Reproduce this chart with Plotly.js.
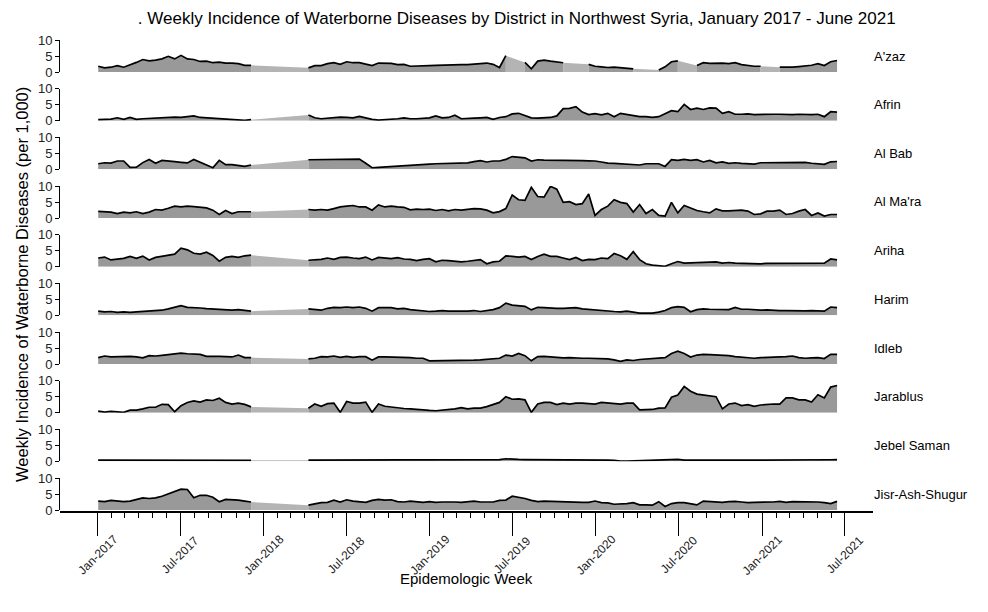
<!DOCTYPE html>
<html><head><meta charset="utf-8">
<script src="https://cdn.plot.ly/plotly-3.0.1.min.js"></script>
<style>html,body{margin:0;padding:0;background:#fff}#chart{width:988px;height:612px}</style>
</head><body><div id="chart"></div>
<script>
// ---------------- DATA ----------------
const districts = ["A'zaz","Afrin","Al Bab","Al Ma'ra","Ariha","Harim","Idleb","Jarablus","Jebel Saman","Jisr-Ash-Shugur"];
// bi-weekly epidemiologic weeks starting on this Monday
const firstWeek = '2017-01-02';
const weekStepDays = 14;
const N = null;

const azaz = [1.8,1.3,1.5,2.0,1.5,2.2,3.0,3.9,3.5,3.7,
 4.1,4.9,4.1,5.2,4.1,3.9,3.3,3.4,2.9,3.1,
 2.8,2.8,2.6,2.1,2.1,N,N,N,N,N,
 N,N,N,1.3,2.0,2.0,2.6,2.9,2.4,3.2,
 2.9,2.9,2.4,2.0,2.8,2.7,2.7,2.3,2.4,1.8,
 1.8,2.0,2.0,2.1,2.2,2.1,2.2,2.3,2.3,2.4,
 2.6,2.8,2.4,1.4,5.1,N,N,3.0,1.0,3.4,
 3.7,3.4,3.1,2.9,N,N,N,2.4,1.8,1.6,
 1.4,1.5,1.3,1.2,1.0,N,N,N,0.6,1.6,
 3.2,3.5,N,N,2.0,2.9,2.7,2.8,2.8,2.6,
 2.9,2.3,2.0,1.8,1.8,N,N,1.5,1.4,1.5,
 1.7,1.8,2.1,2.6,2.0,3.2,3.6];

const afrin = [0.3,0.4,0.5,0.9,0.4,1.0,0.4,0.6,0.7,0.9,
 0.8,0.9,1.1,1.0,1.25,1.5,1.0,0.9,0.6,0.6,
 0.6,0.4,0.3,0.1,0.3,N,N,N,N,N,
 N,N,N,1.8,0.9,0.6,0.8,0.9,1.1,1.0,
 0.9,1.35,0.8,0.4,0.2,0.3,0.5,0.6,0.9,0.6,
 0.6,0.8,0.9,1.5,0.9,1.0,1.7,0.6,0.6,0.8,
 0.9,1.0,0.4,1.0,1.25,2.1,2.3,1.7,0.9,0.8,
 0.9,1.0,1.5,3.75,3.85,4.4,2.7,1.9,2.2,1.8,
 2.3,1.25,2.3,2.0,1.6,1.25,1.25,1.0,1.25,2.1,
 3.1,2.8,5.1,3.5,3.9,3.5,4.0,3.9,2.3,2.8,
 2.0,2.0,2.1,1.9,2.0,2.1,2.0,2.0,1.9,1.9,
 2.0,1.9,1.9,2.0,1.25,2.8,2.7];

const alBab = [1.75,2.05,1.95,2.6,2.6,0.6,0.7,2.1,3.1,1.9,
 2.8,2.5,2.4,2.2,2.0,3.1,2.3,1.5,0.5,2.8,
 1.45,1.45,1.25,0.9,1.35,N,N,N,N,N,
 N,N,N,3.0,3.0,3.05,3.05,3.1,3.1,3.15,
 3.15,3.2,1.9,0.5,0.6,0.7,0.8,0.9,1.0,1.15,
 1.3,1.45,1.6,1.75,1.8,1.8,1.85,1.9,2.0,2.4,
 2.7,2.3,2.6,2.6,3.1,4.0,3.8,3.6,2.6,3.0,
 2.9,2.9,2.85,2.8,2.75,2.7,2.7,2.65,2.6,2.3,
 1.95,1.85,1.75,1.5,1.45,1.35,1.75,1.75,1.75,0.9,
 3.0,2.8,3.1,2.8,3.0,2.3,2.8,2.05,2.3,1.85,
 2.05,1.85,1.85,1.65,2.05,2.05,2.05,2.1,2.15,2.15,
 2.15,2.15,1.9,1.75,1.55,2.35,2.45];

const alMara = [2.1,2.0,1.85,1.4,1.85,1.6,1.95,1.4,1.85,2.65,
 2.45,3.05,3.7,3.45,3.7,3.55,3.35,3.15,2.45,1.1,
 2.35,1.4,1.95,1.95,1.95,N,N,N,N,N,
 N,N,N,2.65,2.45,2.65,2.45,2.95,3.45,3.7,
 3.9,3.45,3.45,2.45,4.1,3.45,3.7,3.45,3.35,2.55,
 2.75,2.65,2.75,2.35,2.65,2.25,2.65,2.45,2.75,2.95,
 2.85,2.45,1.6,2.0,2.95,7.2,5.7,5.5,9.6,6.7,
 6.5,9.9,9.0,4.9,5.1,4.2,4.5,7.5,0.8,2.65,
 3.7,5.7,4.9,4.5,1.85,4.2,1.4,2.65,0.8,0.6,
 4.9,1.6,3.9,3.15,2.35,1.95,1.6,2.85,2.25,2.25,
 2.25,2.45,2.15,1.1,1.3,2.15,2.15,2.45,1.1,1.4,
 2.15,2.65,0.8,1.6,0.6,1.1,1.1];

const ariha = [2.7,3.0,2.1,2.4,2.6,3.2,2.6,3.3,2.1,2.9,
 3.2,3.7,3.9,5.8,5.25,4.2,3.9,4.5,3.5,1.7,
 2.9,3.2,2.9,3.4,3.6,N,N,N,N,N,
 N,N,N,2.0,2.1,2.3,2.7,2.3,2.9,3.0,
 2.7,2.5,3.0,2.1,2.9,2.6,2.5,2.8,2.4,2.3,
 1.9,2.3,2.5,1.5,2.0,1.9,1.7,1.5,1.7,1.9,
 2.2,0.9,1.5,1.7,3.4,3.2,3.0,3.2,2.2,3.2,
 3.9,3.2,3.2,2.7,2.2,2.9,1.9,2.3,2.2,2.7,
 2.5,4.1,3.4,2.3,4.7,2.2,0.9,0.5,0.3,0.1,
 0.9,1.6,1.1,1.2,1.1,1.4,1.3,1.5,1.1,1.3,
 1.1,1.0,0.9,0.9,0.9,1.0,1.0,1.0,1.0,1.0,
 1.0,1.1,1.1,1.2,1.1,2.4,2.1];

const harim = [1.3,1.1,1.2,0.9,1.1,0.9,1.1,1.2,1.3,1.5,
 1.6,2.0,2.4,3.0,2.5,2.5,2.3,2.1,2.0,1.8,
 1.8,1.6,1.8,1.5,1.3,N,N,N,N,N,
 N,N,N,2.0,1.7,1.6,2.2,2.5,2.4,2.6,
 2.4,2.6,2.2,1.3,2.4,2.5,2.4,2.0,2.2,1.8,
 1.6,1.5,1.2,1.3,1.5,1.3,1.4,1.3,1.3,1.5,
 1.2,1.4,1.8,2.4,3.8,3.2,3.1,2.8,1.7,2.5,
 2.4,2.2,2.2,2.2,2.4,2.4,2.0,1.8,1.6,1.5,
 1.3,1.2,1.1,1.3,1.0,0.7,0.7,0.7,1.0,1.5,
 2.4,2.7,2.5,1.1,1.8,2.0,1.9,1.9,1.9,1.8,
 2.5,1.9,1.9,1.7,1.6,1.7,1.5,1.5,1.5,1.4,
 1.5,1.4,1.5,1.5,1.3,2.6,2.4];

const idleb = [2.0,2.5,2.2,2.3,2.3,2.4,2.2,1.9,2.6,2.5,
 2.7,2.9,3.2,3.4,3.2,3.2,3.0,2.4,2.5,2.4,
 2.3,2.2,2.8,2.0,2.0,N,N,N,N,N,
 N,N,N,1.6,1.8,2.3,2.2,2.5,2.1,2.4,
 2.1,2.3,2.3,1.2,2.2,2.2,2.2,2.0,2.0,2.0,
 1.8,1.8,1.0,1.0,1.0,1.0,1.0,1.1,1.1,1.2,
 1.3,1.5,1.6,1.8,2.8,2.5,3.3,2.6,1.0,2.3,
 2.4,2.2,2.1,1.9,2.0,1.8,1.8,1.8,1.8,1.8,
 1.6,1.3,0.8,1.3,1.1,1.4,1.6,1.8,1.8,2.0,
 3.3,4.0,3.3,2.2,2.8,3.0,2.9,2.8,2.8,2.6,
 2.3,2.1,1.8,1.8,2.0,2.0,2.1,2.2,2.3,2.5,
 2.0,1.8,1.9,2.0,1.7,3.0,3.0];

const jarablus = [0.5,0.2,0.4,0.2,0.1,0.8,0.8,1.2,1.7,1.7,
 2.6,2.5,0.3,2.2,3.2,3.7,3.3,4.0,3.8,4.5,
 3.2,2.7,3.0,2.6,1.8,N,N,N,N,N,
 N,N,N,1.4,2.7,2.0,2.8,3.0,0.1,3.5,
 3.0,3.0,3.3,0.1,2.7,2.0,1.7,1.4,1.3,1.2,
 1.0,0.7,0.7,0.6,0.8,0.8,1.2,1.6,1.2,1.4,
 1.4,1.9,2.5,3.2,5.0,4.2,4.3,4.0,0.1,2.7,
 3.2,3.2,2.5,3.0,2.7,3.0,3.0,2.8,2.7,3.2,
 3.0,2.7,2.7,3.0,3.0,0.9,0.9,1.0,1.4,1.5,
 4.8,5.5,8.2,6.7,5.8,5.5,5.3,5.0,1.2,2.7,
 3.0,2.2,2.5,2.0,2.4,2.6,2.7,2.7,4.6,4.6,
 4.0,4.0,3.3,5.6,4.6,8.0,8.5];

const jebelSaman = [0.4,0.4,0.35,0.3,0.35,0.35,0.3,0.35,0.35,0.4,
 0.35,0.4,0.35,0.4,0.35,0.35,0.3,0.35,0.3,0.3,
 0.3,0.3,0.3,0.3,0.3,N,N,N,N,N,
 N,N,N,0.35,0.35,0.4,0.4,0.4,0.45,0.4,
 0.45,0.4,0.4,0.4,0.4,0.4,0.35,0.35,0.35,0.35,
 0.35,0.4,0.4,0.4,0.35,0.4,0.4,0.45,0.4,0.45,
 0.45,0.5,0.5,0.55,0.8,0.6,0.6,0.55,0.55,0.55,
 0.5,0.55,0.5,0.55,0.5,0.5,0.45,0.4,0.4,0.35,
 0.4,0.3,0.05,0.05,0.1,0.2,0.25,0.3,0.35,0.4,
 0.5,0.6,0.4,0.35,0.35,0.35,0.35,0.35,0.35,0.35,
 0.3,0.3,0.3,0.3,0.3,0.3,0.3,0.3,0.3,0.3,
 0.35,0.35,0.35,0.4,0.4,0.5,0.55];

const jisr = [2.8,2.6,3.0,2.8,2.6,2.8,3.3,3.8,3.6,3.8,
 4.3,5.0,5.9,6.5,6.4,3.8,4.6,4.6,4.0,2.6,
 3.3,3.3,3.1,2.8,2.5,N,N,N,N,N,
 N,N,N,1.5,2.0,2.3,2.4,3.1,2.5,3.2,
 2.8,2.6,2.4,3.0,3.3,3.1,3.2,2.6,2.5,2.8,
 2.6,2.4,2.6,2.4,2.5,2.6,2.5,2.4,2.5,2.8,
 2.5,2.4,2.5,3.0,3.1,4.3,4.0,3.6,3.0,2.6,
 2.8,2.7,2.8,2.6,2.6,2.4,2.4,2.4,2.8,2.3,
 2.2,1.8,1.8,2.0,2.3,1.6,1.6,1.5,2.6,1.1,
 2.0,2.3,2.3,2.0,1.6,2.8,2.7,2.5,2.4,2.6,
 2.7,2.5,2.3,2.4,2.4,2.5,2.5,2.7,2.4,2.6,
 2.6,2.4,2.5,2.5,2.3,2.0,2.7];

const seriesList = [azaz, afrin, alBab, alMara, ariha, harim, idleb, jarablus, jebelSaman, jisr];

const majorTickDates = ['2017-01-01','2017-07-01','2018-01-01','2018-07-01','2019-01-01','2019-07-01','2020-01-01','2020-07-01','2021-01-01','2021-07-01'];
const majorTickLabels = ['Jan-2017','Jul-2017','Jan-2018','Jul-2018','Jan-2019','Jul-2019','Jan-2020','Jul-2020','Jan-2021','Jul-2021'];
const yTickVals = [0, 5, 10];

const titleText = '. Weekly Incidence of Waterborne Diseases by District in Northwest Syria, January 2017 - June 2021';
const yTitleText = 'Weekly Incidence of Waterborne Diseases (per 1,000)';
const xTitleText = 'Epidemologic Week';

// ---------------- BUILD ----------------
function addDays(iso, n) {
  const d = new Date(iso + 'T00:00:00Z');
  d.setUTCDate(d.getUTCDate() + n);
  return d.toISOString().slice(0, 10);
}
const dates = azaz.map((_, i) => addDays(firstWeek, i * weekStepDays));
const monthTicks = [];
for (let y = 2017; y <= 2021; y++) for (let m = 1; m <= 12; m++) {
  if (y === 2021 && m > 7) break;
  monthTicks.push(y + '-' + String(m).padStart(2, '0') + '-01');
}

const FONT = 'Liberation Sans, Arial, Helvetica, sans-serif';
const M = {l: 60, r: 115, t: 40, b: 100};
const plotH = 612 - M.t - M.b;            // 472
const plotW = 988 - M.l - M.r;
const panelH = 32, firstTop = 40, lastBottom = 510;
const step = (lastBottom - panelH - firstTop) / 9;
const baseY = 612 - M.b;                   // pixel of paper y=0

const fillMain = '#999999', fillGap = '#b4b4b4';
const traces = [];
const layout = {
  width: 988, height: 612,
  margin: M,
  paper_bgcolor: '#fff', plot_bgcolor: 'rgba(0,0,0,0)',
  showlegend: false, hovermode: false,
  font: {family: FONT, color: '#000'},
  title: {text: titleText, font: {family: FONT, size: 17, color: '#000'},
          xref: 'container', yref: 'container', x: 0.523, xanchor: 'center', y: 0.971, yanchor: 'middle'},
  xaxis: {
    type: 'date', range: ['2016-10-10', '2021-09-01'],
    anchor: 'free', position: 0, domain: [0, 1],
    showline: true, linecolor: '#000', linewidth: 2,
    showgrid: false, zeroline: false,
    tickmode: 'array', tickvals: majorTickDates, showticklabels: false,
    ticks: 'outside', ticklen: 23, tickwidth: 1, tickcolor: '#000',
    minor: {tickmode: 'array', tickvals: monthTicks, ticks: 'outside', ticklen: 5, tickwidth: 1, tickcolor: '#000', showgrid: false}
  },
  annotations: []
};

seriesList.forEach((vals, k) => {
  const yName = k === 0 ? 'y' : 'y' + (k + 1);
  const axKey = k === 0 ? 'yaxis' : 'yaxis' + (k + 1);
  const topPx = firstTop + k * step, botPx = topPx + panelH;
  layout[axKey] = {
    domain: [(baseY - botPx) / plotH, (baseY - topPx) / plotH],
    range: [0, 10], anchor: 'x',
    showline: true, linecolor: '#000', linewidth: 1,
    ticks: 'outside', ticklen: 4, tickwidth: 1, tickcolor: '#000',
    tickmode: 'array', tickvals: yTickVals,
    tickfont: {family: FONT, size: 13, color: '#222'},
    showgrid: false, zeroline: false, fixedrange: true
  };
  // contiguous runs -> main fill ; null runs -> lighter bridging fill
  let i = 0;
  while (i < vals.length) {
    if (vals[i] === null) { i++; continue; }
    let j = i;
    while (j + 1 < vals.length && vals[j + 1] !== null) j++;
    traces.push({x: dates.slice(i, j + 1), y: vals.slice(i, j + 1), xaxis: 'x', yaxis: yName,
      type: 'scatter', mode: 'none', fill: 'tozeroy', fillcolor: fillMain});
    let n = j + 1;
    while (n < vals.length && vals[n] === null) n++;
    if (n < vals.length && n > j + 1) {
      traces.push({x: [dates[j], dates[n]], y: [vals[j], vals[n]], xaxis: 'x', yaxis: yName,
        type: 'scatter', mode: 'none', fill: 'tozeroy', fillcolor: fillGap});
    }
    i = n;
  }
  traces.push({x: dates, y: vals, xaxis: 'x', yaxis: yName, type: 'scatter', mode: 'lines',
    connectgaps: false, line: {color: '#000', width: 1.7}});
  layout.annotations.push({
    text: districts[k], xref: 'paper', x: 0.999, xanchor: 'left',
    yref: yName + ' domain', y: 0.5, yanchor: 'middle', showarrow: false,
    font: {family: FONT, size: 13, color: '#000'}
  });
});

// rotated, centred date labels
majorTickDates.forEach((d, i) => {
  layout.annotations.push({
    text: majorTickLabels[i], xref: 'x', x: d, xanchor: 'center',
    yref: 'paper', y: (baseY - 555) / plotH, yanchor: 'middle',
    textangle: -45, showarrow: false, font: {family: FONT, size: 12, color: '#222'}
  });
});
layout.annotations.push({
  text: yTitleText, xref: 'paper', x: (22 - M.l) / plotW, xanchor: 'center',
  yref: 'paper', y: (baseY - 285) / plotH, yanchor: 'middle', textangle: -90, showarrow: false,
  font: {family: FONT, size: 16.5, color: '#000'}
});
layout.annotations.push({
  text: xTitleText, xref: 'paper', x: 0.5, xanchor: 'center',
  yref: 'paper', y: (baseY - 578) / plotH, yanchor: 'middle', showarrow: false,
  font: {family: FONT, size: 15, color: '#000'}
});

Plotly.newPlot('chart', traces, layout, {displayModeBar: false, staticPlot: true});
</script>
</body></html>
